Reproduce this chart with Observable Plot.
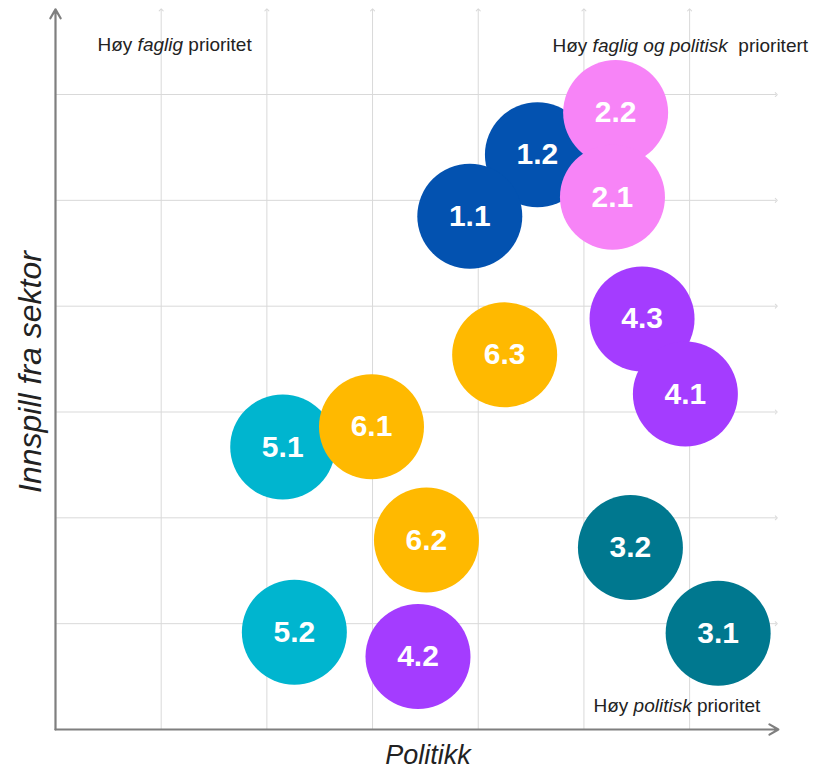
<!DOCTYPE html>
<html>
<head>
<meta charset="utf-8">
<script src="https://cdn.jsdelivr.net/npm/d3@7"></script>
<script src="https://cdn.jsdelivr.net/npm/@observablehq/plot@0.6"></script>
<style>
  html, body { margin: 0; padding: 0; background: #ffffff; }
  #chart svg { font-family: "Liberation Sans", Arial, sans-serif; }
</style>
</head>
<body>
<div id="chart"></div>
<script>
// ---- Data ----
const labels = ["1.2", "1.1", "2.2", "2.1", "3.1", "3.2", "4.3", "4.1", "4.2", "5.1", "5.2", "6.1", "6.2", "6.3"];
const politikk = [4.56, 3.92, 5.30, 5.27, 6.27, 5.44, 5.55, 5.96, 3.43, 2.15, 2.26, 2.99, 3.51, 4.25];
const innspill = [5.43, 4.85, 5.83, 5.03, 0.91, 1.72, 3.88, 3.17, 0.69, 2.67, 0.92, 2.86, 1.79, 3.54];
const groups = ["1", "2", "3", "4", "5", "6"];
const groupColors = ["#0352b0", "#f784f7", "#00788f", "#a43cff", "#00b5cf", "#ffb900"];
const gridTicks = [1, 2, 3, 4, 5, 6];
const cornerNotes = [
  { text: "Høy faglig prioritet", italic: "faglig", anchor: "top-left", dx: 42, dy: 27 },
  { text: "Høy faglig og politisk  prioritert", italic: "faglig og politisk", anchor: "top-left", dx: 497, dy: 28 },
  { text: "Høy politisk prioritet", italic: "politisk", anchor: "bottom-left", dx: 538, dy: -18 }
];
const xLabel = "Politikk";
const yLabel = "Innspill fra sektor";

const bubbles = labels.map((l, i) => ({ label: l, group: l.split(".")[0], x: politikk[i], y: innspill[i] }));

const xMax = 6.86, yMax = 6.794;
const gridColor = "#d9d9d9";
const axisColor = "#7f7f7f";

const chart = Plot.plot({
  width: 813,
  height: 769,
  marginLeft: 55,
  marginRight: 33,
  marginTop: 10,
  marginBottom: 40,
  x: { domain: [0, xMax], axis: null },
  y: { domain: [0, yMax], axis: null },
  color: { domain: groups, range: groupColors, legend: false },
  marks: [
    // vertical grid lines
    Plot.link(gridTicks, { x1: d => d, x2: d => d, y1: 0, y2: 6.80, stroke: gridColor, strokeWidth: 1, markerEnd: "arrow" }),
    // horizontal grid lines
    Plot.link(gridTicks, { y1: d => d, y2: d => d, x1: 0, x2: 6.82, stroke: gridColor, strokeWidth: 1, markerEnd: "arrow" }),
    // axes
    Plot.arrow([0], { x1: 0, y1: 0, x2: 0, y2: 6.805, stroke: axisColor, strokeWidth: 2.2, headLength: 7, headAngle: 60 }),
    Plot.arrow([0], { x1: 0, y1: 0, x2: 6.84, y2: 0, stroke: axisColor, strokeWidth: 2.2, headLength: 7, headAngle: 60 }),
    // bubbles
    Plot.dot(bubbles, { x: "x", y: "y", r: 52.5, fill: "group", stroke: "none" }),
    Plot.text(bubbles, { x: "x", y: "y", text: "label", fill: "white", fontSize: 30, fontWeight: "bold" }),
    // corner notes
    ...cornerNotes.map(n => Plot.text([n], { text: "text", frameAnchor: n.anchor, textAnchor: "start", dx: n.dx, dy: n.dy, fontSize: 19, fill: "#222222" })),
    // axis titles
    Plot.text([xLabel], { text: d => d, frameAnchor: "bottom", textAnchor: "middle", lineAnchor: "middle", dx: 10, dy: 26, fontSize: 27, fontStyle: "italic", fill: "#222222" }),
    Plot.text([yLabel], { text: d => d, frameAnchor: "left", textAnchor: "middle", lineAnchor: "middle", rotate: -90, dx: -25, dy: 2, fontSize: 32, fontStyle: "italic", fill: "#222222" })
  ]
});

// italic fragments in the corner notes
d3.select(chart).selectAll("text").each(function () {
  const el = this;
  const note = cornerNotes.find(n => n.text === el.textContent);
  if (!note) return;
  const i = note.text.indexOf(note.italic);
  const before = note.text.slice(0, i);
  const mid = note.italic;
  const after = note.text.slice(i + mid.length);
  el.textContent = "";
  el.setAttribute("xml:space", "preserve");
  el.style.whiteSpace = "pre";
  const s = d3.select(el);
  s.append("tspan").text(before);
  s.append("tspan").attr("font-style", "italic").text(mid);
  s.append("tspan").text(after);
});

document.getElementById("chart").appendChild(chart);
</script>
</body>
</html>
